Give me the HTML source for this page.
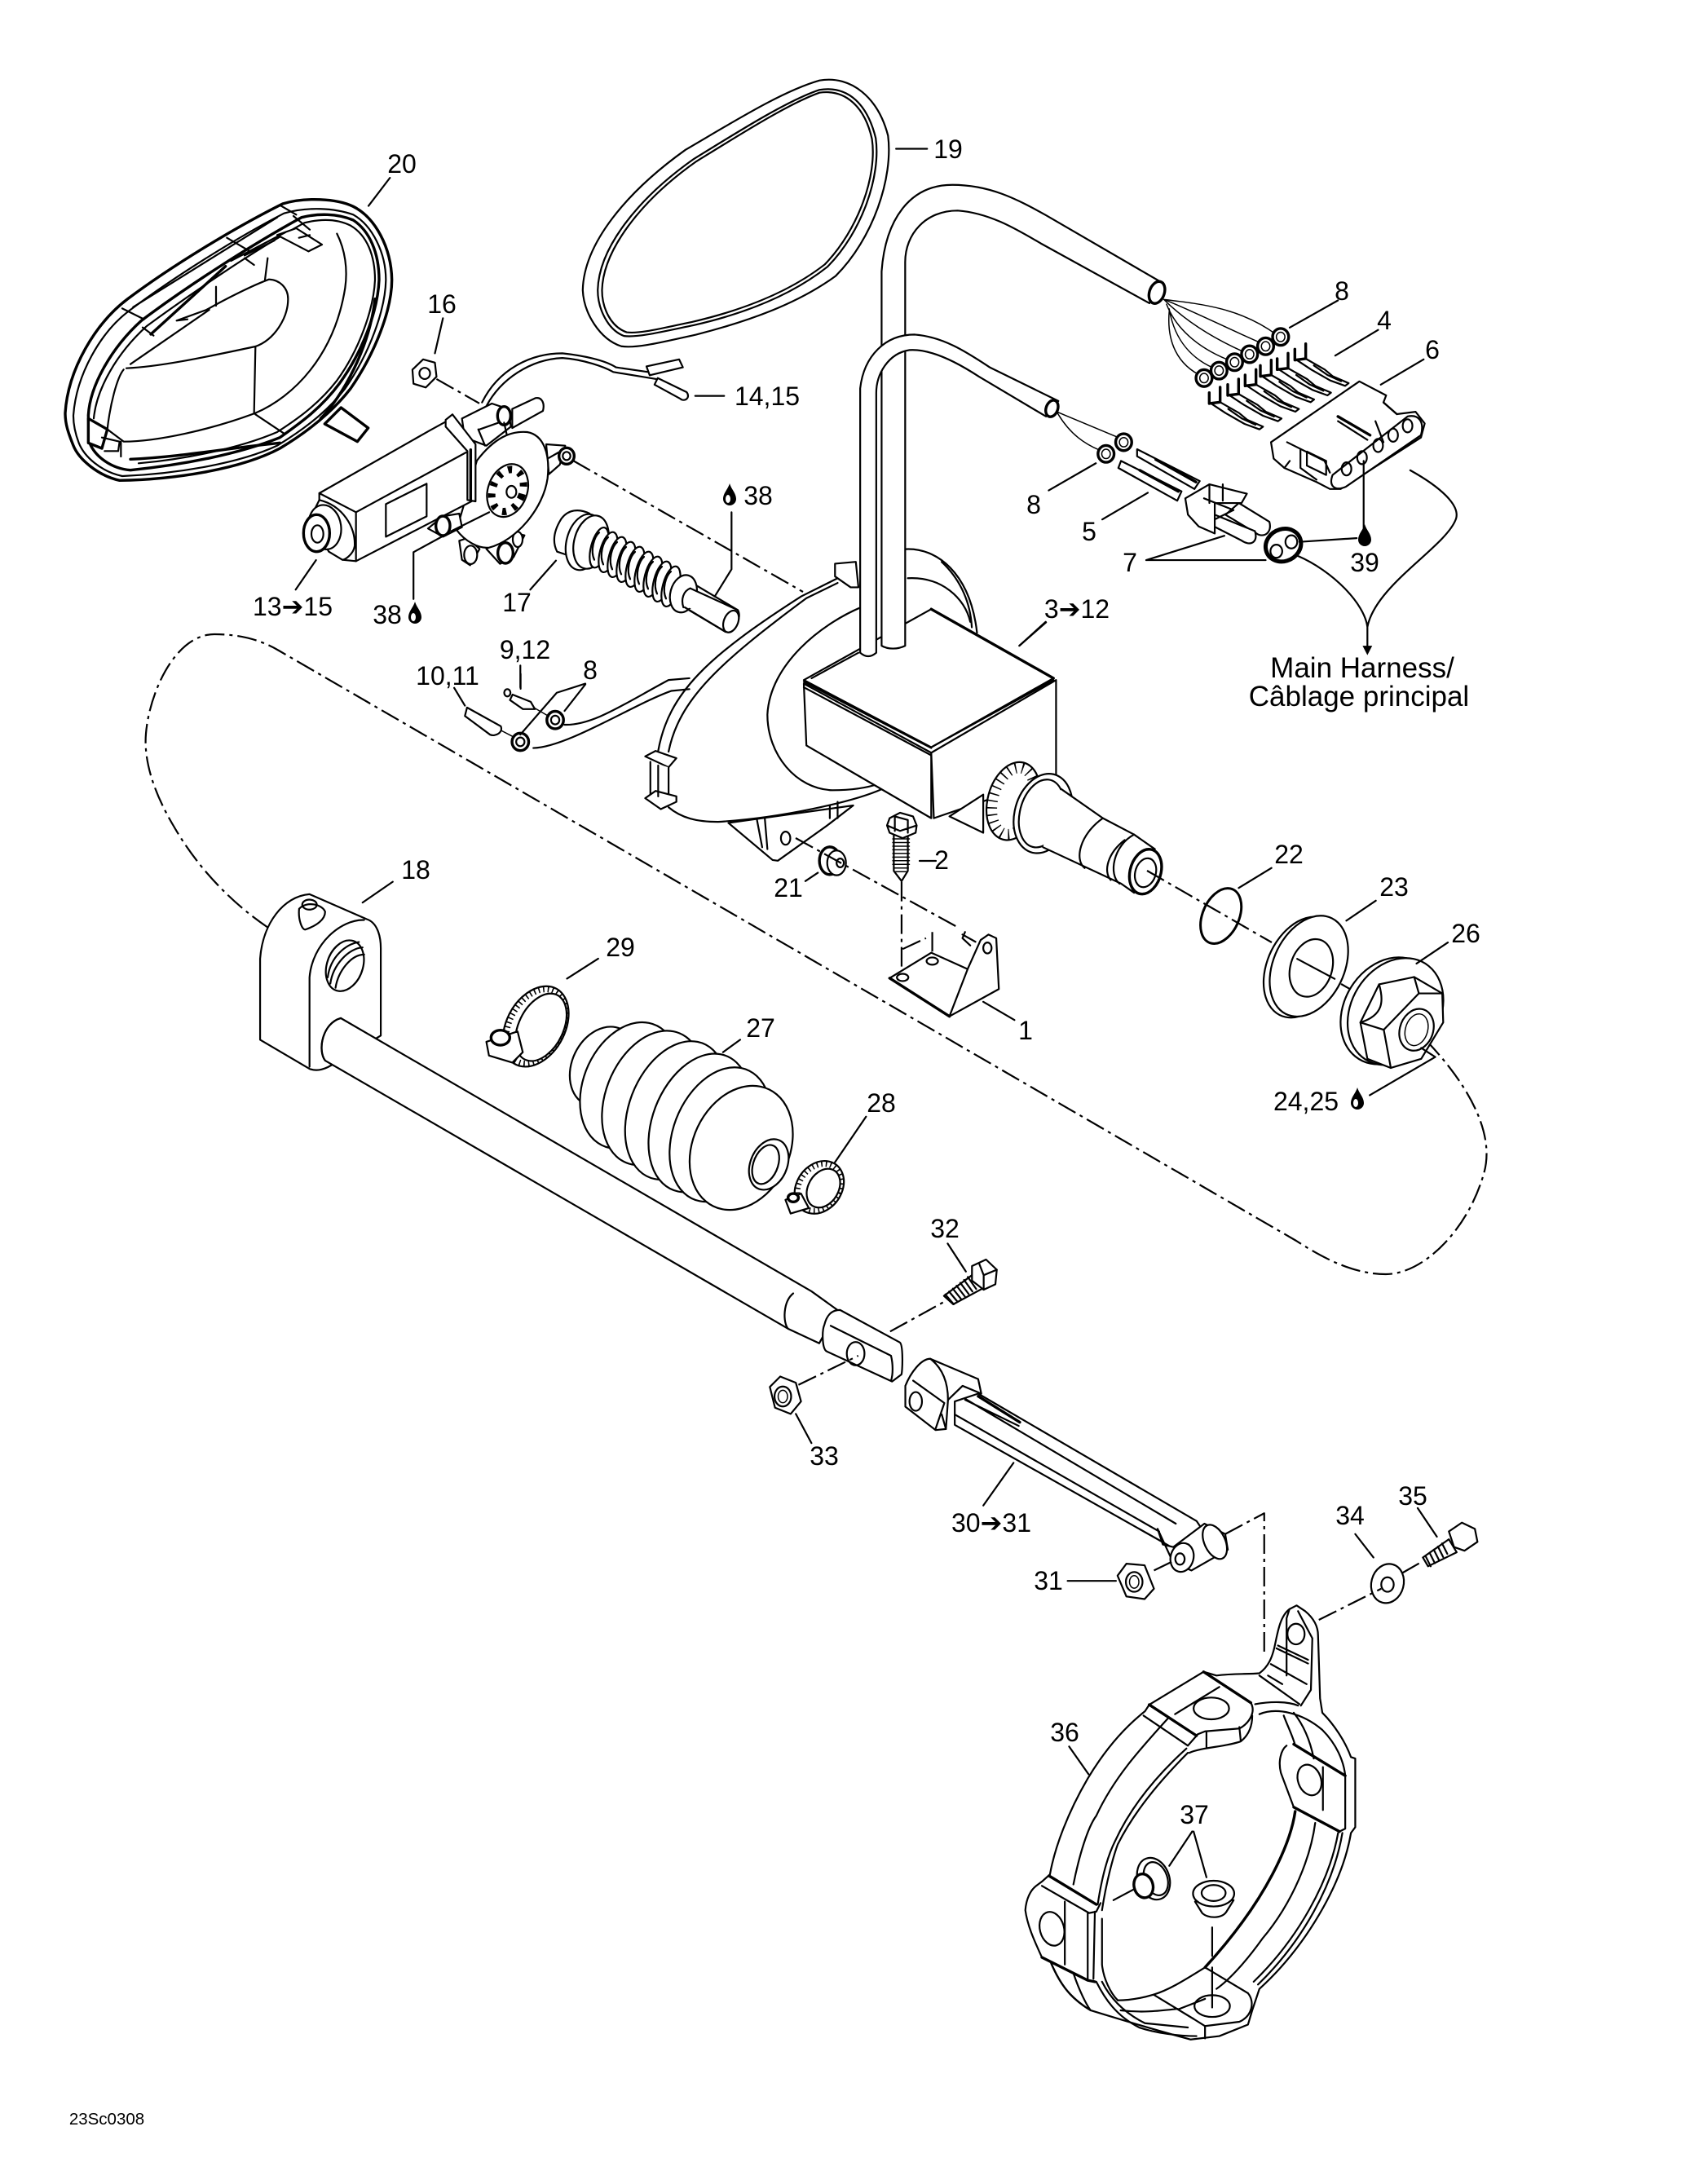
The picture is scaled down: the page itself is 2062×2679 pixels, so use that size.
<!DOCTYPE html>
<html><head><meta charset="utf-8"><style>
html,body{margin:0;padding:0;background:#fff}
svg{display:block}
svg path,svg line,svg ellipse,svg polygon,svg polyline{fill:none;stroke:#000;stroke-width:2.2;vector-effect:non-scaling-stroke;stroke-linejoin:round;stroke-linecap:round}
svg .w{fill:#fff}
svg .b{stroke-width:3.4}
svg .t{stroke-width:1.5}
svg .d{stroke-dasharray:24 6 4 6;stroke-linecap:butt}
svg .k{fill:#000;stroke:none}
svg .h{fill:#fff;stroke:none}
svg .hatch{stroke-width:7;stroke-dasharray:1.6 4;stroke-linecap:butt}
svg .teeth{stroke-width:13;stroke-dasharray:1.6 7;stroke-linecap:butt}
text{font-family:"Liberation Sans","DejaVu Sans",sans-serif;font-size:32px;text-anchor:middle;fill:#000}
text .a{font-family:"DejaVu Sans",sans-serif;font-size:32px;font-weight:bold}
</style></head><body>
<svg xmlns="http://www.w3.org/2000/svg" width="2062" height="2679" viewBox="0 0 2062 2679">
<defs>
<path id="drop" class="k" d="M0-14C2-7 8-2 8 5A8 8 0 0 1-8 5C-8-2-2-7 0-14Z"/>
<g id="t2"><path class="b" d="M0 0V40L40 35V-20"/><path d="M40 35L110 75L140 100L198 125L185 135L130 115L60 75L10 42M70 60L120 95L170 118"/></g>
<g id="fer"><ellipse class="w b" rx="15" ry="18"/><ellipse class="t" rx="8" ry="10"/></g>
<g id="coil"><ellipse class="w" rx="30" ry="76" transform="rotate(15)"/><path d="M-18 45C-34 10-18-40 0-55"/></g>
</defs>

<!-- big dashed loop -->
<path class="d" d="M329 1138C280 1105 240 1060 214 1015C190 975 176 935 179 900C183 850 215 778 263 778C295 778 320 785 342 798L1590 1522C1630 1548 1665 1563 1700 1563C1745 1563 1800 1510 1820 1440C1835 1390 1800 1330 1752 1279"/>

<!-- GROUP C : housing + box -->
<g transform="translate(600 600) scale(.638 .446)">
<path d="M800 165C860 160 925 230 938 395"/><path d="M870 200C900 240 925 300 928 380"/>
<path d="M805 245C870 240 915 300 925 365"/>
<path class="w" d="M345 875C370 905 400 915 440 915C560 905 700 860 755 825L750 800H500L345 760Z" style="stroke:none"/>
<path class="w" d="M460 918L545 1020L555 1022L650 925L700 870Z"/>
<ellipse cx="570" cy="960" rx="9" ry="18"/>
<path d="M515 910L525 985M530 905L535 990M655 870V905M670 860V905"/>
<path d="M345 875C370 905 400 915 440 915C560 905 700 860 755 825"/>
<path d="M325 720C345 560 420 460 600 295L670 245"/><path d="M345 722C365 580 440 480 610 300L670 258"/>
<path class="w" d="M665 205L705 200L710 270L695 270L665 240Z"/>
<path d="M715 325C640 370 540 480 535 620C535 730 590 825 660 828C700 828 730 820 750 810"/>
<path class="w" d="M300 735L320 720L360 740L345 765Z"/><path class="w" d="M310 750V850H345V765"/>
<path class="w" d="M300 850L320 830L360 845V860L330 880Z"/><path d="M325 760V845"/>
<!-- box -->
<path class="w" d="M605 535L850 725L850 905L610 705Z"/>
<path class="w" d="M850 725L1090 525V790L855 905Z"/>
<path class="w" d="M605 525L850 330L1085 520L850 710Z"/>
<path class="b" d="M850 330L1085 520"/><path d="M850 710L1085 525"/>
<path d="M605 545L850 732"/><path d="M605 530L850 712"/>
<path d="M620 520L710 450"/>
<path class="w" d="M885 900L950 840V945Z"/>
<!-- splined shaft -->
<ellipse class="w" cx="1008" cy="858" rx="50" ry="108" transform="rotate(8 1008 858)"/>
<ellipse class="teeth" cx="1008" cy="858" rx="40" ry="92" transform="rotate(8 1008 858)"/>
<ellipse class="w" cx="1065" cy="892" rx="55" ry="110" transform="rotate(8 1065 892)"/>
<ellipse cx="1062" cy="892" rx="42" ry="94" transform="rotate(8 1062 892)"/>
<path class="h" d="M1100 825L1290 1000L1285 1100L1240 1112L1065 985C1075 930 1080 860 1100 825Z"/>
<path d="M1100 825L1180 905L1240 950L1280 990M1065 985L1215 1085L1240 1110"/>
<path d="M1180 905C1135 950 1125 1020 1145 1042"/><path d="M1240 950C1200 980 1190 1060 1212 1085"/><path d="M1222 965C1190 1000 1180 1050 1195 1075"/>
<ellipse class="w b" cx="1262" cy="1052" rx="30" ry="62" transform="rotate(8 1262 1052)"/>
<ellipse cx="1262" cy="1055" rx="20" ry="40" transform="rotate(8 1262 1055)"/>
<!-- nut 21 -->
<ellipse class="w b" cx="655" cy="1022" rx="20" ry="38"/><ellipse class="w" cx="668" cy="1028" rx="18" ry="34"/><ellipse cx="675" cy="1028" rx="7" ry="12"/>
<!-- screw 2 -->
<path class="w" d="M778 950V1050L793 1078L805 1050V950Z"/>
<path class="t" d="M776 962H808M776 972H808M776 982H808M776 992H808M776 1002H808M776 1012H808M776 1022H808M776 1032H808M778 1042H806M780 1052H804"/>
<path class="w" d="M765 925L770 905L790 890L815 900L822 925L820 945L795 960L770 945Z"/><path d="M780 900L805 910V945M780 900V940M765 925L790 940L822 925"/>
<path class="d" d="M793 1080V1345"/><path class="d" d="M795 1265L840 1235M852 1218V1280"/>
<!-- bracket 1 -->
<path class="w" d="M770 1345L850 1275L920 1320L945 1240L960 1225L975 1235L980 1375L885 1450Z"/>
<path d="M885 1450L920 1320"/><path class="b" d="M770 1345L885 1450"/>
<ellipse cx="795" cy="1343" rx="11" ry="10"/><ellipse cx="852" cy="1298" rx="11" ry="10"/><ellipse cx="958" cy="1262" rx="8" ry="15"/>
<path d="M910 1225L935 1245M915 1218L910 1235L925 1255"/>
<!-- wires to nuts 8 -->
<path d="M145 648C200 650 260 590 345 525L385 520"/><path d="M85 712C150 710 280 590 350 555L385 550"/>
<ellipse class="w b" cx="127" cy="635" rx="16" ry="24"/><ellipse cx="127" cy="635" rx="8" ry="12"/>
<ellipse class="w b" cx="60" cy="695" rx="16" ry="24"/><ellipse cx="60" cy="695" rx="8" ry="12"/>
<path d="M185 535L130 560L60 675M185 537L145 610"/>
<path d="M60 485V545"/>
<path class="t" d="M85 600L115 625M18 660L45 680"/>
<path class="w" d="M45 565L80 585L88 605L65 605L40 580Z"/><ellipse class="w" cx="35" cy="560" rx="6" ry="10"/>
<path d="M608 1078L632 1055M950 1410L1010 1460M1020 430L1070 365"/>
</g>

<!-- dash-dot axes -->
<path class="d" d="M703 565L985 726"/>
<path class="d" d="M976 1028L1174 1137"/>
<path class="d" d="M1407 1068L1560 1156"/>

<!-- PART 20 -->
<g transform="translate(60 220) scale(.33333)">
<path class="w b" d="M60 860C70 700 170 530 290 440C450 320 680 180 860 90C940 65 1060 70 1120 100C1200 140 1260 250 1262 370C1262 480 1200 640 1110 770C1040 860 950 930 850 990C700 1070 450 1105 260 1108C180 1090 110 1030 90 980C70 930 60 900 60 860Z"/>
<path d="M90 870C100 720 190 560 300 480C460 360 690 215 865 125C950 100 1050 105 1120 130C1190 170 1240 270 1240 370C1238 480 1180 640 1090 770C1020 860 930 925 840 980C690 1050 450 1085 270 1092C190 1075 130 1020 110 970C95 930 90 900 90 870Z"/>
<path class="b" d="M145 870C150 760 230 620 340 520C500 400 730 250 930 140C990 125 1060 125 1120 150C1180 190 1215 270 1215 370C1210 490 1150 640 1070 750C1000 845 920 900 850 950C700 1010 500 1050 300 1070C230 1065 170 1020 150 970Z"/>
<path d="M165 880C175 770 250 640 360 540C510 430 740 270 940 160C1000 145 1060 145 1110 170C1170 205 1200 280 1200 370C1195 480 1140 630 1060 740C990 830 910 885 840 930C700 990 500 1030 330 1045"/>
<path class="b" d="M300 1030C500 1020 650 990 850 970M1000 880C1080 800 1180 620 1200 440"/>
<path d="M215 920C225 830 250 730 275 700"/>
<path d="M285 695C400 690 550 660 760 615C830 590 880 510 880 440C880 400 850 370 810 368C750 390 650 440 580 480L470 520L510 515M300 680L590 480"/>
<path d="M760 615L755 860M805 290L795 370M615 395V465"/>
<path d="M215 920L275 965C400 965 600 920 760 860C900 800 1050 650 1090 400C1100 330 1090 260 1060 200M760 865L865 935"/>
<path class="w b" d="M145 880L215 920L195 990L145 970Z"/>
<path d="M195 950L260 965L255 1000L205 1000M265 965V1020"/>
<path class="w b" d="M1075 840L1175 915L1135 965L1015 900Z"/>
<path class="w" d="M840 205L910 180L1005 240L955 265Z"/>
<path d="M920 215L960 205M720 280L830 225M670 300L870 195M720 290L755 315"/>
<path class="b" d="M375 570L650 320"/>
<path d="M310 470L840 140M270 475L350 515M655 215L740 265M850 95L910 130M345 545L385 575M900 135L960 185"/>
</g>

<!-- GROUP A + B -->
<g transform="scale(.657 .574)">
<!-- 16 -->
<polygon class="w" points="770,790 790,768 812,775 815,805 795,828 772,820"/><ellipse cx="793" cy="798" rx="10" ry="12"/>
<path d="M827 680L812 755"/><path class="d" d="M815 810L895 862"/>
<!-- wires -->
<path d="M900 860C930 790 990 755 1050 755C1090 760 1130 770 1150 785L1210 795"/><path d="M908 868C935 810 990 768 1050 765C1090 768 1130 785 1145 795L1225 810"/>
<path class="w" d="M1207 783L1268 768L1275 785L1213 802Z"/>
<path class="w" d="M1228 808L1282 838C1290 850 1278 860 1270 852L1222 822Z"/>
<path d="M1298 846H1352"/>
<!-- leaders -->
<path d="M1038 1198L990 1260M590 1197L552 1260M772 1280V1180L860 1125M728 380L688 440"/>
<path d="M972 1440V1472M848 1470L868 1508"/>
<path class="w" d="M872 1512L935 1552C940 1565 925 1575 915 1570L868 1530Z"/>

<!-- ring 19 -->
<path class="w" d="M1088 620C1090 520 1170 410 1280 320C1370 260 1460 195 1530 172C1590 160 1640 210 1658 290C1668 380 1630 510 1560 590C1500 640 1420 680 1300 715C1240 730 1190 745 1160 740C1120 725 1090 670 1088 620Z"/>
<path d="M1116 620C1118 530 1190 425 1295 340C1380 280 1470 215 1530 192C1585 182 1620 225 1635 295C1645 375 1610 495 1545 570C1490 620 1410 665 1295 695C1240 708 1190 722 1165 718C1135 705 1116 660 1116 620Z"/>
<path d="M1124 620C1126 535 1195 430 1300 345C1385 285 1475 220 1530 198C1580 190 1615 230 1628 297C1638 375 1603 490 1540 565C1485 614 1405 658 1292 688C1240 700 1195 714 1170 710C1140 698 1124 658 1124 620Z"/>

<g transform="translate(1568 0)">
<!-- big cable -->
<path class="w" d="M78 1380V580C85 470 130 395 210 395C280 395 330 425 385 460L600 603L578 648L375 520C330 490 280 455 220 450C160 450 122 500 122 560V1380C108 1388 90 1388 78 1380Z"/>
<ellipse class="w b" cx="592" cy="625" rx="14" ry="24" transform="rotate(15 592 625)"/>
<!-- small cable -->
<path class="w" d="M38 1395V830C45 760 85 715 140 715C195 720 240 755 280 785L408 857L385 890L260 805C220 775 170 745 130 748C90 755 68 800 68 840V1395C58 1405 48 1405 38 1395Z"/>
<ellipse class="w b" cx="396" cy="873" rx="11" ry="18" transform="rotate(15 396 873)"/>
<!-- wires -->
<path class="t" d="M605 640C680 650 750 660 815 715M605 640C660 665 720 700 790 735M605 640C640 680 690 720 760 755M610 650C630 710 680 750 732 772M615 660C625 730 660 770 705 790M615 665C610 730 630 780 678 805"/>
<path class="t" d="M405 880L520 935M405 880C430 930 460 950 485 962"/>
<use href="#fer" x="823" y="720"/><use href="#fer" x="795" y="740"/><use href="#fer" x="765" y="757"/><use href="#fer" x="737" y="774"/><use href="#fer" x="708" y="792"/><use href="#fer" x="680" y="808"/>
<use href="#fer" x="530" y="945"/><use href="#fer" x="497" y="970"/>
<!-- connector 6 -->
<path class="w" d="M805 945L970 815L1020 845L1015 860L1040 885L1075 880L1092 905L1085 935L935 1045L915 1045L890 1030L830 1000L810 980Z"/>
<path class="w" d="M920 1015L1060 890C1080 885 1092 900 1085 930L945 1040C925 1050 912 1040 920 1015Z"/>
<ellipse cx="946" cy="1002" rx="9" ry="14"/><ellipse cx="975" cy="978" rx="9" ry="14"/><ellipse cx="1005" cy="952" rx="9" ry="14"/><ellipse cx="1033" cy="930" rx="9" ry="14"/><ellipse cx="1060" cy="910" rx="9" ry="14"/>
<path d="M835 945L905 985L915 1010M860 960L860 1000L890 1025M872 965L908 985V1015L872 995ZM830 1000L840 985M1015 860L1040 885"/>
<path class="b" d="M930 890L990 930"/><path d="M930 900L985 940M1000 900L1015 945"/>
<path d="M978 985V1130"/>
<path d="M1065 1005C1120 1040 1160 1080 1150 1110C1130 1170 1000 1250 985 1340M855 1188C920 1220 980 1290 985 1340V1385"/>
<polygon class="k" points="976,1380 994,1380 985,1400"/>
<!-- gasket 7 -->
<ellipse class="w" cx="828" cy="1165" rx="32" ry="36" transform="rotate(30 828 1165)" style="stroke-width:5"/>
<ellipse cx="843" cy="1158" rx="11" ry="14"/><ellipse cx="815" cy="1178" rx="11" ry="14"/>
<path d="M858 1158L965 1150M572 1197H795M572 1197L718 1145"/>
<!-- sleeves -->
<path class="w" d="M555 960L672 1028L662 1045L555 975Z"/><path class="b" d="M590 982L665 1030"/>
<path class="w" d="M525 985L638 1050L630 1070L520 1000Z"/><path class="b" d="M560 1005L632 1050"/>
<!-- connector 7 -->
<path class="w" d="M745 1075L802 1115C808 1140 790 1150 778 1140L720 1100Z"/>
<path class="w" d="M700 1100L775 1135C782 1160 765 1168 750 1155L690 1120Z"/>
<path class="w" d="M645 1065L690 1035L760 1055L750 1075L700 1075V1140L670 1125L650 1100Z"/>
<path d="M680 1065L735 1090L700 1110M690 1035V1075M715 1035V1070"/>
<!-- leaders -->
<path d="M390 1048L478 990M490 1110L575 1053M840 700L930 642M925 760L1005 705M1010 822L1090 768M105 318H163M335 1380L385 1330"/>
</g>
</g>

<!-- terminals 4 -->
<g transform="translate(1420 330) scale(.33333)">
<use href="#t2" x="190" y="455"/><use href="#t2" x="258" y="425"/><use href="#t2" x="322" y="390"/><use href="#t2" x="378" y="355"/><use href="#t2" x="440" y="330"/><use href="#t2" x="505" y="295"/>
</g>

<!-- MOTOR 13 -->
<g transform="translate(340 430) scale(.33333)">
<path class="w" d="M865 215L950 175C975 170 985 195 978 222L865 285Z"/>
<path class="w" d="M680 250L790 195L850 215L860 280L770 350L690 320Z"/>
<path d="M745 290L830 260M740 290L765 350"/>
<ellipse class="w b" cx="835" cy="240" rx="24" ry="34"/><path d="M835 265L845 310"/>
<path class="w" d="M990 345L1060 350L1040 420L1000 455Z"/><path d="M1000 395L1035 375"/>
<ellipse class="w b" cx="1065" cy="388" rx="28" ry="30"/><ellipse cx="1065" cy="388" rx="14" ry="15"/>
<path class="w" d="M770 730L820 785L870 760L910 680L870 670Z"/>
<ellipse class="w" cx="885" cy="695" rx="18" ry="28"/><ellipse class="w b" cx="840" cy="745" rx="28" ry="38"/>
<path class="w" d="M670 700L680 770L710 790L745 730L700 690Z"/><ellipse class="w" cx="712" cy="752" rx="24" ry="34"/>
<path class="w" d="M735 405C800 320 860 295 920 300C980 310 1005 380 995 470C980 580 880 700 780 725C740 730 690 700 660 660Z"/>
<ellipse class="w" cx="848" cy="515" rx="72" ry="100" transform="rotate(20 848 515)"/>
<ellipse class="teeth" cx="848" cy="515" rx="55" ry="80" transform="rotate(20 848 515)" style="stroke-width:9;stroke-dasharray:5 9"/>
<ellipse class="w" cx="862" cy="520" rx="18" ry="22"/>
<path class="w" d="M155 525L560 295L620 262L725 345V550L290 775L240 770L155 600Z"/>
<path d="M290 595L695 375M290 595V775M155 525L290 595"/>
<path d="M400 565L550 490V610L400 685Z"/>
<path class="w" d="M620 255L645 235L730 345V555L700 550V370L620 280Z"/><path class="b" d="M712 365V550"/>
<path class="w" d="M155 550C240 570 290 650 285 720C280 750 250 770 240 770L190 740L120 620Z"/>
<ellipse class="w" cx="175" cy="650" rx="60" ry="82" transform="rotate(-8 175 650)"/>
<ellipse class="w b" cx="145" cy="672" rx="48" ry="68"/><ellipse cx="148" cy="675" rx="22" ry="32"/>
<path class="w" d="M555 655L610 610L670 600L680 650L610 685Z"/>
<ellipse class="w b" cx="610" cy="645" rx="26" ry="36"/>
<path d="M640 665L780 595"/>
</g>

<!-- PART 17 -->
<g transform="translate(660 600) scale(.33333)">
<path class="w" d="M190 90C150 70 110 75 85 110C60 150 50 190 70 230L100 240L200 200Z"/>
<path class="w" d="M550 335L735 445C750 470 730 520 690 525L530 430Z"/>
<ellipse class="w" cx="710" cy="487" rx="26" ry="42" transform="rotate(22 710 487)"/>
<ellipse class="w" cx="170" cy="195" rx="65" ry="105" transform="rotate(15 170 195)"/>
<ellipse class="w" cx="195" cy="195" rx="62" ry="100" transform="rotate(15 195 195)"/>
<use href="#coil" x="225" y="215"/><use href="#coil" x="258" y="232"/><use href="#coil" x="291" y="250"/><use href="#coil" x="324" y="268"/><use href="#coil" x="357" y="286"/><use href="#coil" x="390" y="304"/><use href="#coil" x="423" y="322"/><use href="#coil" x="456" y="340"/><use href="#coil" x="489" y="358"/>
<ellipse class="w" cx="535" cy="385" rx="48" ry="70" transform="rotate(15 535 385)"/>
<path class="h" d="M560 365L610 390L580 440L535 435C525 405 535 375 560 365Z"/>
<path d="M560 365L735 445M540 435L690 525M560 365C535 375 525 405 535 435"/>
<path d="M712 85V295L650 395"/>
</g>

<!-- GROUP D -->
<g transform="translate(150 1000) scale(.638 .51)">
<path class="w" d="M265 345C270 260 310 195 360 190L470 250C490 258 497 290 497 320V530L410 595C390 612 375 617 360 610L265 540Z"/>
<path d="M360 605V390C365 310 420 250 465 252"/>
<ellipse class="w" cx="428" cy="362" rx="35" ry="62" transform="rotate(12 428 362)"/>
<path d="M395 390C400 340 430 310 455 305M400 405C405 360 435 320 462 318M410 415C415 375 440 335 465 335"/>
<path d="M340 225C338 250 345 275 352 275C375 265 390 250 390 232C385 215 355 205 340 225Z"/><ellipse cx="360" cy="215" rx="14" ry="12"/>
<!-- rod -->
<path class="w" d="M420 488L1325 1145L1375 1190L1340 1270L1280 1235L390 590C375 565 385 500 420 488Z"/>
<path d="M420 488C385 500 375 565 390 590"/>
<path d="M1290 1150C1270 1170 1270 1220 1280 1235"/>
<path class="w" d="M1350 1225C1355 1200 1365 1190 1380 1190L1495 1268C1502 1275 1500 1340 1498 1345L1480 1362L1355 1290C1345 1285 1345 1240 1350 1225Z"/>
<path d="M1362 1228L1478 1300C1482 1320 1482 1345 1478 1360"/>
<ellipse cx="1410" cy="1295" rx="17" ry="28"/>
<!-- nut 33 -->
<polygon class="w" points="1245,1375 1265,1350 1295,1365 1305,1410 1285,1440 1255,1425"/><ellipse cx="1270" cy="1398" rx="16" ry="24"/><ellipse class="t" cx="1270" cy="1398" rx="9" ry="15"/>
<path class="d" d="M1300 1370L1415 1300"/>
<path d="M1295 1440L1325 1510M1155 570L1188 540M855 393L915 345M1370 835L1430 725M462 210L520 160"/>
<!-- clamp 29 -->
<ellipse class="w" cx="795" cy="508" rx="58" ry="100" transform="rotate(18 795 508)"/>
<ellipse class="hatch" cx="795" cy="508" rx="52" ry="92" transform="rotate(18 795 508)"/>
<ellipse class="w" cx="805" cy="510" rx="44" ry="84" transform="rotate(18 805 510)"/>
<path class="w" d="M700 545L760 520L770 570L750 595L705 578Z"/><ellipse class="w b" cx="727" cy="535" rx="18" ry="18"/>
<!-- boot -->
<ellipse class="w" cx="925" cy="605" rx="62" ry="98" transform="rotate(14 925 605)"/>
<ellipse class="w" cx="975" cy="650" rx="90" ry="155" transform="rotate(14 975 650)"/>
<ellipse class="w" cx="1020" cy="680" rx="92" ry="165" transform="rotate(14 1020 680)"/>
<ellipse class="w" cx="1065" cy="710" rx="92" ry="170" transform="rotate(14 1065 710)"/>
<ellipse class="w" cx="1110" cy="740" rx="92" ry="170" transform="rotate(14 1110 740)"/>
<ellipse class="w" cx="1150" cy="768" rx="92" ry="165" transform="rotate(14 1150 768)"/>
<ellipse class="w" cx="1190" cy="800" rx="95" ry="152" transform="rotate(14 1190 800)"/>
<ellipse class="w" cx="1243" cy="840" rx="36" ry="62" transform="rotate(14 1243 840)"/>
<ellipse cx="1237" cy="840" rx="24" ry="48" transform="rotate(14 1237 840)"/>
<!-- clamp 28 -->
<ellipse class="w" cx="1340" cy="895" rx="45" ry="65" transform="rotate(18 1340 895)"/>
<ellipse class="hatch" cx="1340" cy="895" rx="40" ry="58" transform="rotate(18 1340 895)"/>
<ellipse class="w" cx="1348" cy="897" rx="30" ry="48" transform="rotate(18 1348 897)"/>
<path class="w" d="M1275 925L1305 910L1320 945L1285 958Z"/><ellipse class="w b" cx="1290" cy="920" rx="10" ry="10"/>
</g>

<!-- GROUP E -->
<g transform="translate(1000 1000) scale(.574 .446)">
<ellipse cx="867" cy="277" rx="40" ry="78" transform="rotate(15 867 277)" style="stroke-width:3"/>
<ellipse class="w" cx="1042" cy="418" rx="78" ry="142" transform="rotate(15 1042 418)"/>
<ellipse class="w" cx="1055" cy="415" rx="78" ry="142" transform="rotate(15 1055 415)"/>
<ellipse cx="1060" cy="420" rx="45" ry="80" transform="rotate(10 1060 420)"/>
<path d="M1030 395L1110 450M1125 465L1148 482"/>
<ellipse class="w" cx="1225" cy="538" rx="98" ry="150" transform="rotate(15 1225 538)"/>
<ellipse class="w" cx="1240" cy="540" rx="98" ry="150" transform="rotate(15 1240 540)"/>
<polygon class="w" points="1205,465 1280,445 1340,490 1342,570 1295,670 1230,695 1180,670 1165,570"/>
<path d="M1215 590L1165 570M1215 590L1230 695M1215 590L1290 490L1340 490M1280 445L1290 490M1205 465C1215 510 1215 550 1165 570"/>
<ellipse class="w" cx="1285" cy="590" rx="36" ry="58" transform="rotate(10 1285 590)"/>
<ellipse class="t" cx="1285" cy="590" rx="24" ry="44" transform="rotate(10 1285 590)"/>
<path d="M905 200L975 145M1135 290L1198 235M1285 408L1352 350M1185 770L1325 665L1295 640M283 1178L322 1255"/>
<!-- bolt 32 -->
<path class="w" d="M275 1322L335 1265L360 1300L295 1345Z"/>
<path d="M278 1318L296 1345M286 1310L304 1338M294 1302L312 1331M302 1294L320 1324M310 1286L328 1317M318 1278L336 1310M326 1270L344 1303"/>
<polygon class="w" points="335,1240 365,1222 388,1250 385,1290 360,1305 335,1280"/>
<path d="M350 1232L360 1265V1305M360 1265L388 1250"/>
<path class="d" d="M160 1420L280 1335"/>
</g>

<!-- GROUP F -->
<g transform="translate(900 1550) scale(.638)">
<path class="w" d="M425 265L470 250L890 495L900 510L850 550L815 530L425 310Z"/>
<path d="M445 260L850 500M425 290L818 515M445 262L548 312"/>
<path class="b" d="M470 255L550 305"/>
<path class="w" d="M330 235C340 210 360 183 378 183L470 222L476 250L440 235L412 262L408 318L388 320L330 275Z"/>
<path d="M378 183C400 200 412 225 412 262M400 290L408 318M345 225L405 268L388 318"/>
<ellipse cx="350" cy="265" rx="12" ry="18"/>
<path class="w" d="M815 510L825 540L845 545L905 500L945 520L950 550L880 590L845 575Z"/>
<ellipse class="w" cx="925" cy="535" rx="20" ry="35" transform="rotate(-25 925 535)"/>
<ellipse class="w" cx="862" cy="565" rx="22" ry="28" transform="rotate(15 862 565)"/>
<ellipse cx="858" cy="568" rx="9" ry="11"/>
<path d="M480 465L538 383M642 610H735M1195 520L1230 565M1315 470L1352 525"/>
<polygon class="w" points="738,600 755,577 790,580 808,625 790,645 755,640"/><ellipse cx="770" cy="612" rx="16" ry="19"/><ellipse class="t" cx="770" cy="612" rx="9" ry="12"/>
<path class="d" d="M808 590L845 572M945 520L1020 480V750"/>
<ellipse class="w" cx="1257" cy="615" rx="31" ry="38" transform="rotate(15 1257 615)"/><ellipse cx="1257" cy="617" rx="12" ry="14"/>
<path class="d" d="M1125 685L1245 625M1285 595L1320 575"/>
<path class="w" d="M1325 565L1375 530L1390 555L1335 582Z"/>
<path d="M1330 562L1340 582M1338 556L1348 576M1346 550L1356 570M1354 544L1364 564M1362 538L1372 558"/>
<polygon class="w" points="1375,515 1400,498 1425,510 1430,535 1405,552 1385,545"/>
</g>

<!-- RING 36 -->
<g transform="translate(1250 1950) scale(.351)">
<path class="w" d="M108 995C125 900 170 780 240 660C300 560 370 480 440 425L455 402L645 287L690 300C750 292 800 296 840 292C870 270 885 240 895 190C905 140 915 90 945 68L970 55L1000 75C1030 100 1045 130 1045 160L1052 380L1060 430C1100 470 1140 530 1160 585L1175 590V830L1160 850C1130 1030 1000 1250 840 1395L815 1470L800 1520L700 1560L600 1572C480 1540 380 1510 250 1470C200 1440 150 1400 110 1300L80 1285C60 1240 30 1180 22 1120C25 1080 40 1050 60 1035L80 1020Z"/>
<path d="M190 1030C210 930 240 830 270 790C330 660 420 560 520 450"/>
<path d="M275 1100C290 1000 310 930 335 880C390 760 480 650 585 555M290 1120C305 1020 330 930 345 890C400 780 490 670 590 570"/>
<path class="b" d="M105 1000L270 1100M455 402L620 510M645 287L810 395M960 540L1140 650M80 1285L240 1365L265 1370M960 760L1120 845"/>
<path d="M80 1035L245 1130L270 1125L285 1095M160 1090V1310M240 1130V1360M265 1125L260 1360"/>
<ellipse cx="115" cy="1185" rx="42" ry="60" transform="rotate(-15 115 1185)"/>
<path d="M435 440L590 545L625 505M545 435L700 340"/>
<ellipse cx="672" cy="415" rx="62" ry="38"/>
<path d="M810 395C830 430 800 470 770 485L650 495L625 505M595 570C640 550 720 550 775 530C800 510 815 480 815 440M655 495V550M770 480L775 530"/>
<path d="M825 400C880 390 940 390 975 405M840 435C900 410 990 430 1060 490C1110 540 1135 600 1140 650M925 440C940 480 960 520 965 545M960 430C1000 480 1020 540 1030 590"/>
<path d="M905 195L1010 245M900 205L1010 258M945 68L935 100V300M975 75L1025 170L1020 350L985 405M880 260L1005 330M840 300L980 400M870 300L920 330"/>
<ellipse cx="968" cy="155" rx="30" ry="36"/>
<path d="M935 545C915 560 905 600 915 640C930 680 945 720 960 760"/>
<path d="M1120 845L1140 835V650"/><ellipse cx="1015" cy="665" rx="40" ry="55" transform="rotate(-20 1015 665)"/>
<path d="M1062 620V770"/>
<path class="b" d="M965 775C950 880 870 1080 650 1320"/>
<path d="M1035 815C1020 930 960 1090 850 1220C800 1290 740 1360 690 1395M1130 850C1100 1030 990 1230 835 1380M1115 850C1085 1020 975 1220 820 1370"/>
<path d="M650 1320L800 1410M470 1415L610 1500M650 1320C570 1370 520 1400 470 1415C420 1430 380 1435 345 1435M560 1465L650 1430"/>
<ellipse cx="675" cy="1455" rx="62" ry="38"/>
<path d="M800 1410C825 1440 815 1490 770 1510L650 1525L610 1500M650 1525V1568M355 1470C440 1480 500 1470 555 1465"/>
<path d="M290 1150V1310C295 1360 320 1410 345 1435M270 1370C300 1430 340 1490 420 1530C480 1550 560 1560 620 1560M290 1370C320 1430 370 1480 440 1515L590 1530"/>
<path d="M110 1300C140 1370 170 1420 250 1470M190 1340C210 1400 235 1450 250 1470"/>
<ellipse class="w" cx="470" cy="1010" rx="55" ry="75" transform="rotate(-20 470 1010)"/>
<ellipse cx="478" cy="1010" rx="40" ry="60" transform="rotate(-20 478 1010)"/>
<ellipse class="w b" cx="435" cy="1035" rx="33" ry="42" transform="rotate(-15 435 1035)"/>
<path d="M330 1085L405 1045"/>
<path class="w" d="M615 1090L640 1130C660 1150 710 1150 725 1125L750 1085Z"/>
<ellipse class="w" cx="680" cy="1062" rx="72" ry="45"/><ellipse cx="680" cy="1060" rx="42" ry="28"/>
<path d="M605 845L525 965M610 845L655 1005M175 548L243 645"/>
<path d="M675 1180V1280M675 1320V1460"/>
</g>

<!-- drops -->
<use href="#drop" x="509" y="752"/><ellipse cx="507" cy="757" rx="3" ry="5" style="fill:#fff;stroke:none"/>
<use href="#drop" x="895" y="607"/><ellipse cx="893" cy="612" rx="3" ry="5" style="fill:#fff;stroke:none"/>
<use href="#drop" x="1674" y="657"/>
<use href="#drop" x="1665" y="1348"/><ellipse cx="1663" cy="1353" rx="3" ry="5" style="fill:#fff;stroke:none"/>

<!-- labels -->
<text x="493" y="212">20</text>
<text x="542" y="384">16</text>
<text x="941" y="497">14,15</text>
<text x="359" y="755">13<tspan class="a">➔</tspan>15</text>
<text x="475" y="765">38</text>
<text x="634" y="750">17</text>
<text x="930" y="619">38</text>
<text x="644" y="808">9,12</text>
<text x="549" y="840">10,11</text>
<text x="724" y="833">8</text>
<text x="1163" y="194">19</text>
<text x="1646" y="368">8</text>
<text x="1698" y="404">4</text>
<text x="1757" y="440">6</text>
<text x="1268" y="630">8</text>
<text x="1336" y="663">5</text>
<text x="1386" y="701">7</text>
<text x="1674" y="701">39</text>
<text x="1321" y="758">3<tspan class="a">➔</tspan>12</text>
<text x="1671" y="831" style="font-size:35px">Main Harness/</text>
<text x="1667" y="866" style="font-size:35px">Câblage principal</text>
<text x="1155" y="1066">2</text>
<path d="M1128 1056H1148"/>
<text x="967" y="1100">21</text>
<text x="1581" y="1059">22</text>
<text x="1710" y="1099">23</text>
<text x="1798" y="1156">26</text>
<text x="1258" y="1275">1</text>
<text x="1602" y="1362">24,25</text>
<text x="510" y="1078">18</text>
<text x="761" y="1173">29</text>
<text x="933" y="1272">27</text>
<text x="1081" y="1364">28</text>
<text x="1159" y="1518">32</text>
<text x="1011" y="1797">33</text>
<text x="1216" y="1879">30<tspan class="a">➔</tspan>31</text>
<text x="1286" y="1950">31</text>
<text x="1656" y="1870">34</text>
<text x="1733" y="1846">35</text>
<text x="1306" y="2136">36</text>
<text x="1465" y="2237">37</text>
<text x="131" y="2606" style="font-size:20.5px">23Sc0308</text>
</svg>
</body></html>
